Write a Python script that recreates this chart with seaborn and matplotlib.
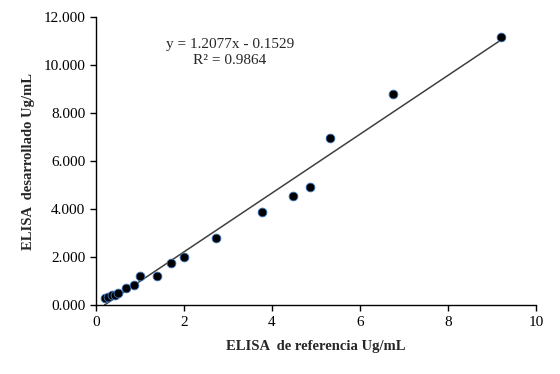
import matplotlib
matplotlib.use("Agg")
import matplotlib.pyplot as plt
import seaborn as sns
import numpy as np
from matplotlib.ticker import FuncFormatter

# ELISA de referencia (x) vs ELISA desarrollado (y), Ug/mL
ref_vals = [0.20, 0.28, 0.36, 0.43, 0.51, 0.68, 0.87, 1.01, 1.39, 1.72,
            2.01, 2.73, 3.77, 4.47, 4.87, 5.33, 6.75, 9.20]
dev_vals = [0.28, 0.35, 0.42, 0.42, 0.49, 0.70, 0.86, 1.22, 1.22, 1.75,
            2.00, 2.78, 3.89, 4.55, 4.93, 6.96, 8.79, 11.18]
eq_text = "y = 1.2077x - 0.1529"
r2_text = "R² = 0.9864"

sns.set_style("white")
plt.rcParams['font.family'] = ['Liberation Serif', 'DejaVu Serif']

fig, ax = plt.subplots(figsize=(5.6, 3.74), dpi=100)
fig.subplots_adjust(left=0.171, right=0.957, top=0.955, bottom=0.184)

sns.regplot(x=ref_vals, y=dev_vals, ax=ax, scatter=False, ci=None, truncate=True,
            line_kws={'color': '#404040', 'lw': 1.1})
sns.scatterplot(x=ref_vals, y=dev_vals, ax=ax, color='black', s=40,
                edgecolor='#3f78c0', linewidth=0.6, zorder=3)

ax.set_xlim(0, 10)
ax.set_ylim(0, 12)
ax.set_xticks(range(0, 11, 2))
ax.set_yticks(range(0, 13, 2))
ax.yaxis.set_major_formatter(FuncFormatter(lambda v, p: f"{v:.3f}"))
ax.tick_params(axis='both', direction='out', length=4, width=1, labelsize=11,
               colors='black', left=True, bottom=True)

sns.despine(ax=ax)
for s in ['left', 'bottom']:
    ax.spines[s].set_color('black')
    ax.spines[s].set_linewidth(1)

ax.set_xlabel("ELISA  de referencia Ug/mL", fontsize=10.5, fontweight='bold', labelpad=8)
ax.set_ylabel("ELISA  desarrollado Ug/mL", fontsize=10.5, fontweight='bold', labelpad=6)

ax.text(3.05, 10.83, eq_text, ha='center', va='center', fontsize=11)
ax.text(3.05, 10.17, r2_text, ha='center', va='center', fontsize=11)

plt.savefig('out.png', dpi=100)
